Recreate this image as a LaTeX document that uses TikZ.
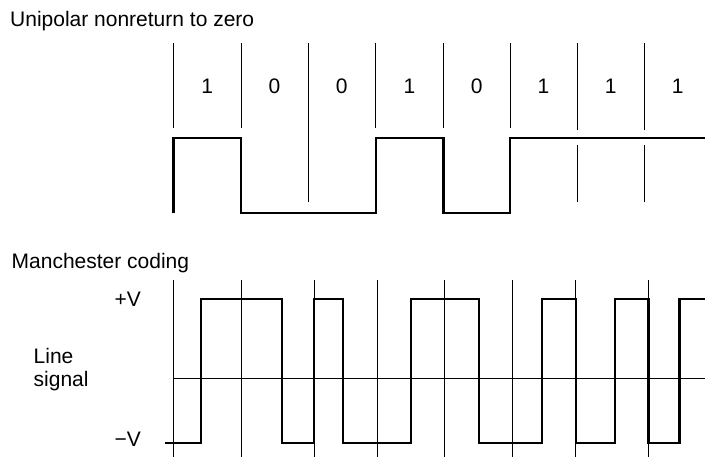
\documentclass[tikz,border=0pt]{standalone}
\usepackage{fontspec}
\setmainfont{Liberation Sans}
\begin{document}
\begin{tikzpicture}[x=1pt,y=-1pt,
  gridline/.style={line width=1pt, black},
  wave/.style={line width=2.4pt, line join=miter, black},
  lbl/.style={inner sep=0pt, font=\fontsize{21}{25}\selectfont}]
\useasboundingbox (0,0) rectangle (705,457);

% ---- titles
\node[lbl, anchor=base west] (t1) at (10,26.7) {Unipolar nonreturn to zero};
\node[lbl, anchor=base west] (t2) at (11.5,268.3) {Manchester coding};

% ---- NRZ bit boundaries
\foreach \x in {173.3,241,375.7,443.3,510}
  \draw[gridline] (\x,43) -- (\x,128);
\draw[gridline] (308,43) -- (308,202);
\foreach \x in {577,644.3} {
  \draw[gridline] (\x,43) -- (\x,130);
  \draw[gridline] (\x,145) -- (\x,202);
}

% ---- bit labels
\foreach \x/\b [count=\i] in {207.2/1,274.5/0,341.8/0,409.5/1,476.7/0,543.5/1,610.6/1,677.6/1}
  \node[lbl] (b\i) at (\x,86.5) {\b};

% ---- NRZ waveform
\draw[wave] (173.3,213.3) -- (173.3,138.3) -- (241,138.3) -- (241,213.3)
  -- (375.7,213.3) -- (375.7,138.3) -- (443.3,138.3) -- (443.3,213.3)
  -- (510,213.3) -- (510,138.3) -- (705,138.3);

% ---- Manchester grid
\foreach \x in {173.3,241,314,377.3,444.3,512.7,575.7,648.3}
  \draw[gridline] (\x,280) -- (\x,457);
\draw[gridline] (173.3,379) -- (705,379);

% ---- level labels
\node[lbl, anchor=east] (pv) at (141,299.5) {+V};
\node[lbl, anchor=east] (mv) at (141,439.5) {−V};
\node[lbl, anchor=base west] (ls1) at (33.5,363.3) {Line};
\node[lbl, anchor=base west] (ls2) at (33.5,386.7) {signal};

% ---- Manchester waveform
\draw[wave] (165,442.7) -- (200.7,442.7) -- (200.7,299) -- (281.7,299)
  -- (281.7,442.7) -- (314,442.7) -- (314,299) -- (342.7,299)
  -- (342.7,442.7) -- (410.7,442.7) -- (410.7,299) -- (479,299)
  -- (479,442.7) -- (541.7,442.7) -- (541.7,299) -- (575.7,299)
  -- (575.7,442.7) -- (615,442.7) -- (615,299) -- (648.3,299)
  -- (648.3,442.7) -- (679.3,442.7) -- (679.3,299) -- (705,299);
\end{tikzpicture}
\end{document}
